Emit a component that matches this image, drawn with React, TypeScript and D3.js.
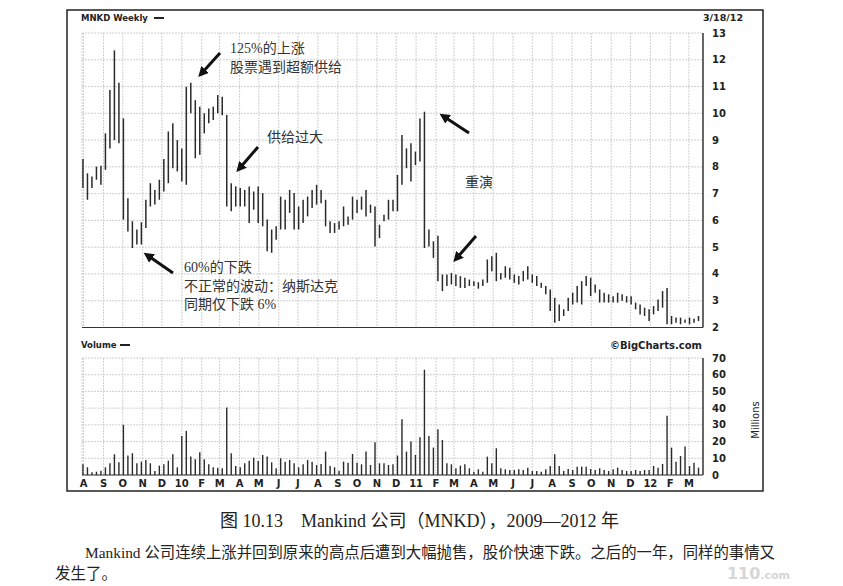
import React from "react";
import * as d3 from "d3";

// weekly bars, Jul 31 2009 -> Mar 16 2012
const highs = [
  8.29, 7.76, 7.64, 8.01, 8.04, 9.25, 10.87, 12.35, 11.14, 9.81,
  6.83, 5.97, 5.66, 5.93, 6.77, 7.39, 7.14, 7.52, 8.29, 9.32,
  9.63, 9.0, 8.69, 10.99, 11.14, 10.49, 10.25, 10.0, 10.18, 10.25,
  10.68, 10.62, 9.94, 7.39, 7.27, 7.21, 7.14, 7.27, 7.08, 7.27,
  7.02, 6.03, 5.66, 5.78, 6.89, 6.77, 7.14, 7.02, 6.52, 6.77,
  6.89, 7.14, 7.33, 7.14, 6.77, 5.97, 5.9, 5.97, 6.52, 6.15,
  6.89, 6.77, 6.89, 7.14, 6.59, 6.52, 5.84, 6.21, 6.77, 6.77,
  7.7, 9.19, 8.69, 8.88, 8.57, 9.81, 10.06, 5.66, 5.22, 5.43,
  3.98, 3.98, 4.04, 3.98, 3.92, 3.86, 3.79, 3.73, 3.69, 3.79,
  4.54, 4.66, 4.79, 4.04, 4.29, 4.23, 3.98, 3.92, 4.11, 4.29,
  3.98, 3.92, 3.67, 3.55, 3.42, 3.11, 2.86, 2.68, 3.11, 3.3,
  3.55, 3.73, 3.92, 3.86, 3.61, 3.42, 3.3, 3.24, 3.17, 3.3,
  3.24, 3.17, 3.17, 2.93, 2.86, 2.74, 2.68, 2.8, 3.05, 3.36,
  3.48, 2.43, 2.37, 2.37, 2.3, 2.37, 2.33, 2.43,
];
const lows = [
  7.21, 6.77, 7.21, 7.52, 7.33, 7.89, 8.69, 9.0, 8.88, 6.03,
  5.59, 4.97, 5.1, 5.1, 5.72, 6.52, 6.59, 6.77, 7.08, 7.39,
  7.95, 7.83, 7.45, 7.33, 10.0, 8.32, 8.45, 9.25, 9.63, 9.75,
  10.0, 9.93, 6.52, 6.34, 6.52, 6.52, 6.52, 5.9, 6.4, 5.9,
  5.78, 4.85, 4.79, 5.28, 5.66, 5.66, 6.28, 5.66, 5.66, 5.9,
  6.15, 6.46, 6.59, 6.64, 5.78, 5.53, 5.53, 5.66, 5.78, 5.84,
  6.03, 6.28, 6.4, 6.15, 6.28, 5.03, 5.34, 5.97, 6.03, 6.34,
  6.34, 7.33, 7.95, 7.45, 8.07, 8.2, 4.97, 5.03, 4.6, 3.73,
  3.36, 3.55, 3.61, 3.55, 3.48, 3.48, 3.55, 3.55, 3.45, 3.55,
  3.67, 4.1, 3.73, 3.79, 3.86, 3.79, 3.67, 3.61, 3.73, 3.79,
  3.67, 3.55, 3.48, 3.24, 2.62, 2.18, 2.24, 2.43, 2.62, 2.86,
  2.93, 2.86, 3.55, 3.17, 3.3, 2.93, 2.93, 2.93, 2.93, 2.93,
  3.0, 2.93, 2.86, 2.68, 2.49, 2.43, 2.24, 2.49, 2.62, 2.74,
  2.12, 2.12, 2.18, 2.12, 2.18, 2.12, 2.18, 2.24,
];
// volume, millions
const volumes = [
  6.4, 4.6, 1.6, 2, 2.6, 4.6, 7, 12.4, 7.6, 30,
  11.6, 13, 7, 8, 9, 7, 2.4, 5.6, 6.4, 8.6,
  12.4, 4.6, 23.4, 26.4, 11, 9.4, 13.6, 9.4, 6.4, 4.6,
  4.4, 4, 40.4, 13, 5.4, 4.6, 7, 8.6, 10.4, 8.4,
  12, 11, 7.6, 4, 10, 8, 9, 7, 4.6, 6.4,
  9, 8, 6, 6.6, 14, 5.4, 4.6, 2.6, 8, 7.4,
  12.6, 7.4, 6.4, 14, 6, 19.6, 7, 7, 6, 6.4,
  11.6, 33.4, 14, 20, 12, 22.6, 63, 23.4, 16.4, 27.4,
  21, 7, 6.4, 4, 5.6, 6.4, 4, 2, 3.4, 2,
  11, 7, 16, 4, 3.4, 3, 3, 3.4, 3, 4.4,
  2.4, 2.4, 2, 3.4, 5.4, 12.4, 5.4, 2.4, 3.6, 3,
  5, 5, 5, 3.6, 3, 4, 3, 2.4, 3.4, 4.4,
  3, 2.4, 2.4, 3, 2.4, 3, 3, 5.4, 4.4, 6.6,
  35.4, 16.4, 8, 11.4, 17, 5.4, 7.4, 4.4,
];

const priceTicks = [2, 3, 4, 5, 6, 7, 8, 9, 10, 11, 12, 13];
const volumeTicks = [0, 10, 20, 30, 40, 50, 60, 70];
const monthLetters = ["J", "F", "M", "A", "M", "J", "J", "A", "S", "O", "N", "D"];

const firstWeek = new Date(2009, 6, 31);
const weeks = highs.map((_, i) => d3.timeWeek.offset(firstWeek, i));
const months = d3.timeMonth.range(new Date(2009, 7, 1), new Date(2012, 3, 1));

const PX0 = 82;
const PX1 = 703;

const x = d3.scaleTime().domain([new Date(2009, 6, 29, 12), new Date(2012, 2, 23)]).range([PX0, PX1]);
const yP = d3.scaleLinear().domain([2, 13]).range([327.5, 33]);
const yV = d3.scaleLinear().domain([0, 70]).range([475, 358]);

const monthLabel = (d: Date) =>
  d.getMonth() === 0 ? String(d.getFullYear()).slice(2) : monthLetters[d.getMonth()];

const px = "'DejaVu Sans', sans-serif";
const cn = "'Liberation Serif', 'Noto Sans CJK SC', serif";

const Arrow = ({ x1, y1, x2, y2 }: { x1: number; y1: number; x2: number; y2: number }) => (
  <line x1={x1} y1={y1} x2={x2} y2={y2} stroke="#111" strokeWidth={3} markerEnd="url(#head)" />
);

export default function App() {
  return (
    <svg width={843} height={586} style={{ position: "absolute", left: 0, top: 0, background: "#fff" }}>
      <defs>
        <marker id="head" viewBox="0 0 10 10" refX="6" refY="5" markerWidth="3.4" markerHeight="3.4" orient="auto">
          <path d="M0,0 L10,5 L0,10 z" fill="#111" />
        </marker>
      </defs>

      {/* frame */}
      <rect x={67} y={10} width={696} height={481} fill="none" stroke="#222" strokeWidth={1.5} />

      {/* price panel grid */}
      <g stroke="#c4c4c4" strokeWidth={0.8} strokeDasharray="2,1">
        {priceTicks.map((t) => (
          <line key={t} x1={PX0} x2={PX1} y1={yP(t)} y2={yP(t)} />
        ))}
        {months.map((m) => (
          <line key={+m} x1={x(m)} x2={x(m)} y1={yP(13)} y2={yP(2)} />
        ))}
        <line x1={PX0} x2={PX0} y1={yP(13)} y2={yP(2)} />
      </g>
      <line x1={PX1} x2={PX1} y1={yP(13)} y2={yP(2)} stroke="#333" strokeWidth={1.5} />
      <line x1={PX0} x2={PX1} y1={yP(2)} y2={yP(2)} stroke="#333" strokeWidth={1.2} />

      {/* price bars */}
      <g stroke="#2a2a2a" strokeWidth={1.5}>
        {weeks.map((w, i) => (
          <line key={i} x1={x(w)} x2={x(w)} y1={yP(highs[i])} y2={yP(lows[i])} />
        ))}
      </g>

      {/* price axis and panel labels */}
      <g fontFamily={px} fontSize={10} fontWeight="bold" fill="#222">
        {priceTicks.map((t) => (
          <text key={t} x={712} y={yP(t)} dy="0.35em">{t}</text>
        ))}
        <text x={81} y={21} fontSize={8.5}>MNKD Weekly</text>
        <line x1={154} x2={164} y1={18} y2={18} stroke="#222" strokeWidth={2} />
        <text x={703} y={21} fontSize={9.5}>3/18/12</text>
        <text x={81} y={348} fontSize={8.5}>Volume</text>
        <line x1={120} x2={130} y1={345} y2={345} stroke="#222" strokeWidth={2} />
        <text x={702} y={349} fontSize={10} textAnchor="end">©BigCharts.com</text>
      </g>

      {/* volume panel grid */}
      <g stroke="#c4c4c4" strokeWidth={0.8} strokeDasharray="2,1">
        {volumeTicks.map((t) => (
          <line key={t} x1={PX0} x2={PX1} y1={yV(t)} y2={yV(t)} />
        ))}
        {months.map((m) => (
          <line key={+m} x1={x(m)} x2={x(m)} y1={yV(70)} y2={yV(0)} />
        ))}
        <line x1={PX0} x2={PX0} y1={yV(70)} y2={yV(0)} />
      </g>
      <line x1={PX1} x2={PX1} y1={yV(70)} y2={yV(0)} stroke="#333" strokeWidth={1.5} />
      <line x1={PX0} x2={PX1} y1={yV(0)} y2={yV(0)} stroke="#333" strokeWidth={1.2} />

      <g stroke="#2a2a2a" strokeWidth={1.4}>
        {weeks.map((w, i) => (
          <line key={i} x1={x(w)} x2={x(w)} y1={yV(0)} y2={yV(volumes[i])} />
        ))}
      </g>

      <g fontFamily={px} fontSize={10} fontWeight="bold" fill="#222">
        {volumeTicks.map((t) => (
          <text key={t} x={712} y={yV(t)} dy="0.35em">{t}</text>
        ))}
        {months.map((m) => (
          <text key={+m} x={x(m)} y={487} textAnchor="middle">{monthLabel(m)}</text>
        ))}
        <text transform="translate(759,420) rotate(-90)" textAnchor="middle" fontWeight="normal" fontSize={10}>
          Millions
        </text>
      </g>

      {/* annotations */}
      <g fontFamily={cn} fontSize={14} fill="#333">
        <text x={230} y={53}>125%的上涨</text>
        <text x={230} y={72}>股票遇到超额供给</text>
        <text x={267} y={142}>供给过大</text>
        <text x={465} y={187}>重演</text>
        <text x={184} y={272}>60%的下跌</text>
        <text x={184} y={291}>不正常的波动：纳斯达克</text>
        <text x={184} y={309}>同期仅下跌 6%</text>
      </g>
      <Arrow x1={220} y1={53} x2={201} y2={74} />
      <Arrow x1={258} y1={147} x2={239} y2={169} />
      <Arrow x1={173} y1={273} x2={147} y2={255} />
      <Arrow x1={469} y1={133} x2={443} y2={116} />
      <Arrow x1={476} y1={236} x2={456} y2={259} />

      {/* caption and body text */}
      <g fontFamily={cn} fill="#222">
        <text x={220} y={527} fontSize={18} style={{ whiteSpace: "pre" }}>
          {"图 10.13    Mankind 公司（MNKD），2009—2012 年"}
        </text>
        <text x={85} y={558} fontSize={15.5} textLength={690} lengthAdjust="spacingAndGlyphs">
          Mankind 公司连续上涨并回到原来的高点后遭到大幅抛售，股价快速下跌。之后的一年，同样的事情又
        </text>
        <text x={55} y={579} fontSize={15.5}>发生了。</text>
      </g>
      <text x={790} y={579} textAnchor="end" fontFamily={px} fontSize={16} fontWeight="bold" fill="#ccc" opacity={0.8}>
        110<tspan fontSize={11}>.com</tspan>
      </text>
    </svg>
  );
}
